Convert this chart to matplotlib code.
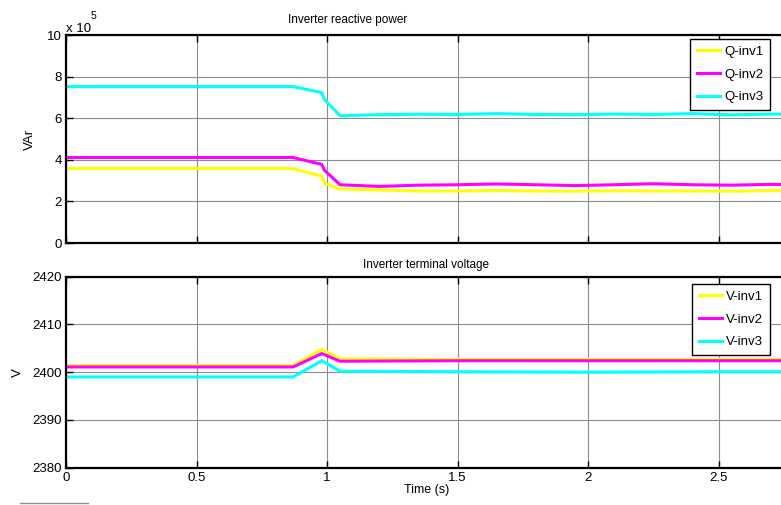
#!/usr/bin/env python3
# Inverter reactive power and terminal voltage over time (two stacked panels)

import matplotlib
matplotlib.use("Agg")
import matplotlib.pyplot as plt
from matplotlib.lines import Line2D

plt.rcParams['font.family'] = ['Liberation Sans', 'DejaVu Sans']
plt.rcParams['font.size'] = 9.5

# --- reactive power (x 1e5 VAr) ---
t_q = [0, 0.87, 0.98, 0.99, 1.05, 1.2, 1.35, 1.5, 1.65, 1.8, 1.95, 2.1, 2.25, 2.4, 2.55, 2.7, 2.8]
q_inv1 = [3.58, 3.58, 3.22, 2.87, 2.60, 2.55, 2.50, 2.50, 2.52, 2.50, 2.49, 2.51, 2.50, 2.50, 2.49, 2.52, 2.52]
q_inv2 = [4.11, 4.11, 3.78, 3.50, 2.80, 2.72, 2.78, 2.80, 2.84, 2.80, 2.76, 2.80, 2.85, 2.80, 2.78, 2.82, 2.80]
q_inv3 = [7.52, 7.52, 7.23, 6.90, 6.12, 6.17, 6.19, 6.18, 6.22, 6.18, 6.17, 6.20, 6.18, 6.22, 6.16, 6.20, 6.20]

# --- terminal voltage (V) ---
t_v = [0, 0.87, 0.98, 1.05, 1.5, 2.0, 2.5, 2.8]
v_inv1 = [2401.4, 2401.4, 2404.8, 2402.8, 2402.7, 2402.7, 2402.7, 2402.7]
v_inv2 = [2401.1, 2401.1, 2403.9, 2402.3, 2402.4, 2402.4, 2402.4, 2402.4]
v_inv3 = [2399.0, 2399.0, 2402.4, 2400.2, 2400.1, 2400.0, 2400.1, 2400.1]

x_ticks = [0, 0.5, 1, 1.5, 2, 2.5]
x_tick_labels = ['0', '0.5', '1', '1.5', '2', '2.5']
q_ticks = [0, 2, 4, 6, 8, 10]
v_ticks = [2380, 2390, 2400, 2410, 2420]

colors = ['#ffff00', '#ff00ff', '#00ffff']

W, H = 781, 505
X_MAX = 2.76
PX_PER_S = 261
fig = plt.figure(figsize=(W / 100, H / 100), dpi=100)


def px_axes(left, top, right, bottom):
    return fig.add_axes([left / W, 1 - bottom / H, (right - left) / W, (bottom - top) / H])


def style(ax):
    for s in ax.spines.values():
        s.set_linewidth(1.6)
    ax.grid(True, color='#8c8c8c', linewidth=0.8)
    ax.set_axisbelow(True)
    ax.tick_params(direction='in', length=5, width=1.0, top=True, right=False, pad=3)
    ax.set_xlim(0, X_MAX)
    ax.set_xticks(x_ticks)


def add_legend(ax, left, top):
    leg = ax.legend(loc='upper left', bbox_to_anchor=(left / W, 1 - top / H),
                    bbox_transform=fig.transFigure, frameon=True, fancybox=False,
                    edgecolor='black', framealpha=1, handlelength=1.8,
                    handletextpad=0.3, labelspacing=0.8, borderpad=0.5,
                    borderaxespad=0, fontsize=9.5)
    leg.get_frame().set_linewidth(1.0)


right_px = 66 + X_MAX * PX_PER_S

ax1 = px_axes(66, 35, right_px, 243)
style(ax1)
ax1.plot(t_q, q_inv1, color=colors[0], lw=2.2, label='Q-inv1')
ax1.plot(t_q, q_inv2, color=colors[1], lw=2.2, label='Q-inv2')
ax1.plot(t_q, q_inv3, color=colors[2], lw=2.2, label='Q-inv3')
ax1.set_ylim(0, 10)
ax1.set_yticks(q_ticks)
ax1.set_xticklabels([])
ax1.set_ylabel('VAr')
ax1.yaxis.set_label_coords((36 - 66) / (right_px - 66), 0.5)
ax1.set_title('Inverter reactive power', fontsize=8.5, pad=9, x=1.08 / X_MAX)
fig.text(66 / W, 1 - 32 / H, 'x 10', ha='left', va='baseline', fontsize=9.5)
fig.text(91 / W, 1 - 19 / H, '5', ha='left', va='baseline', fontsize=7.5)
add_legend(ax1, 690, 39)

ax2 = px_axes(66, 276.7, right_px, 467.7)
style(ax2)
ax2.plot(t_v, v_inv1, color=colors[0], lw=2.2, label='V-inv1')
ax2.plot(t_v, v_inv2, color=colors[1], lw=2.2, label='V-inv2')
ax2.plot(t_v, v_inv3, color=colors[2], lw=2.2, label='V-inv3')
ax2.set_ylim(2380, 2420)
ax2.set_yticks(v_ticks)
ax2.set_xticklabels(x_tick_labels)
ax2.set_ylabel('V')
ax2.yaxis.set_label_coords((24 - 66) / (right_px - 66), 0.5)
ax2.set_xlabel('Time (s)', labelpad=0, fontsize=9)
ax2.set_title('Inverter terminal voltage', fontsize=8.5, pad=6)
add_legend(ax2, 692, 284)

# short rule at the lower-left edge
fig.add_artist(Line2D([20 / W, 88 / W], [1 - 503 / H, 1 - 503 / H],
                      transform=fig.transFigure, color='#909090', lw=1))

fig.savefig('out.png', dpi=100)
